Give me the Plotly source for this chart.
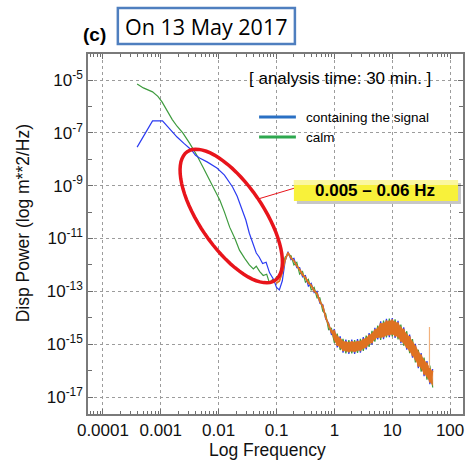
import numpy as np
import plotly.graph_objects as go

# ---------------- data ----------------
# low-frequency part, frequencies in Hz, power as log10(m**2/Hz)
blue_low_freq = [0.00039, 0.00072, 0.00107, 0.00141, 0.00191, 0.00251, 0.00339, 0.00398,
                 0.00468, 0.00631, 0.00794, 0.00933, 0.0126, 0.0174, 0.0209, 0.0257,
                 0.0295, 0.0339, 0.0389, 0.0447, 0.0501, 0.0575, 0.0661, 0.0759, 0.0891]
blue_low_logpow = [-7.54, -6.55, -6.55, -6.85, -7.16, -7.40, -7.65, -7.85,
                   -7.95, -8.10, -8.25, -8.33, -8.60, -9.05, -9.40, -9.92,
                   -10.30, -10.80, -11.20, -11.55, -11.70, -11.95, -11.90, -12.30, -12.55]

green_low_freq = [0.00039, 0.0005, 0.00072, 0.00089, 0.00105, 0.00132, 0.00158, 0.00191,
                  0.0024, 0.00316, 0.00417, 0.00537, 0.00692, 0.00851, 0.0105, 0.0126,
                  0.0155, 0.0191, 0.0229, 0.0282, 0.0339, 0.0398, 0.0447, 0.0513,
                  0.0589, 0.0676, 0.0759, 0.0851, 0.0933]
green_low_logpow = [-5.15, -5.30, -5.45, -5.62, -5.83, -6.20, -6.50, -6.75,
                    -7.00, -7.40, -7.84, -8.30, -8.79, -9.20, -9.55, -10.00,
                    -10.57, -11.00, -11.44, -11.75, -12.00, -12.15, -12.05, -12.25,
                    -12.40, -12.35, -12.70, -12.55, -12.60]

# high-frequency (noise) part, shared frequencies in Hz
noise_freq = [0.100, 0.112, 0.126, 0.141, 0.158, 0.178, 0.200, 0.224, 0.251, 0.282,
              0.316, 0.355, 0.398, 0.447, 0.501, 0.562, 0.631, 0.708, 0.794, 0.891,
              1.00, 1.12, 1.26, 1.41, 1.58, 1.78, 2.00, 2.24, 2.51, 2.82,
              3.16, 3.55, 3.98, 4.47, 5.01, 5.62, 6.31, 7.08, 7.94, 8.91,
              10.0, 11.2, 12.6, 14.1, 15.8, 17.8, 20.0, 22.4, 25.1, 28.2,
              31.6, 35.5, 39.8, 44.7, 50.1]
blue_noise_logpow = [-12.85, -12.95, -12.60, -11.85, -11.50, -11.80, -11.75, -12.10, -12.10, -12.45,
                     -12.40, -12.80, -12.70, -13.05, -13.00, -13.45, -13.50, -14.05, -14.20, -14.65,
                     -14.43, -15.12, -14.70, -15.32, -14.83, -15.37, -14.83, -15.37, -14.81, -15.32,
                     -14.73, -15.20, -14.58, -15.02, -14.38, -14.82, -14.14, -14.81, -14.04, -14.73,
                     -14.01, -14.76, -14.12, -14.96, -14.36, -15.21, -14.64, -15.51, -14.99, -15.91,
                     -15.34, -16.21, -15.64, -16.51, -15.94]
green_noise_logpow = [-12.45, -12.45, -12.10, -11.70, -11.60, -11.65, -12.00, -11.90, -12.35, -12.25,
                      -12.65, -12.55, -12.95, -12.85, -13.25, -13.25, -13.75, -13.85, -14.45, -14.40,
                      -14.95, -14.60, -15.22, -14.80, -15.35, -14.85, -15.35, -14.85, -15.33, -14.80,
                      -15.25, -14.68, -15.10, -14.50, -14.90, -14.30, -14.84, -14.11, -14.74, -14.03,
                      -14.71, -14.06, -14.82, -14.26, -15.06, -14.51, -15.34, -14.81, -15.69, -15.21,
                      -16.04, -15.51, -16.34, -15.81, -16.64]
orange_noise_logpow = [-12.68, -12.62, -12.28, -11.82, -11.53, -11.75, -11.83, -12.04, -12.17, -12.39,
                       -12.47, -12.69, -12.76, -13.00, -13.06, -13.40, -13.55, -14.00, -14.25, -14.56,
                       -14.49, -15.06, -14.77, -15.26, -14.90, -15.31, -14.89, -15.30, -14.88, -15.26,
                       -14.80, -15.13, -14.64, -14.96, -14.44, -14.76, -14.20, -14.74, -14.10, -14.67,
                       -14.06, -14.70, -14.18, -14.90, -14.42, -15.15, -14.70, -15.45, -15.05, -15.85,
                       -15.40, -16.15, -15.70, -16.45, -16.00]
orange_band_low_logpow = [-12.72, -12.62, -12.32, -11.82, -11.57, -11.74, -11.87, -12.02, -12.22, -12.37,
                          -12.53, -12.68, -12.83, -12.98, -13.13, -13.38, -13.63, -13.98, -14.33, -14.55,
                          -14.87, -15.02, -15.14, -15.22, -15.27, -15.27, -15.27, -15.27, -15.25, -15.22,
                          -15.17, -15.10, -15.02, -14.92, -14.82, -14.72, -14.76, -14.71, -14.66, -14.63,
                          -14.63, -14.66, -14.74, -14.86, -14.98, -15.11, -15.26, -15.41, -15.61, -15.81,
                          -15.96, -16.11, -16.26, -16.41, -16.56]
orange_band_high_logpow = [-12.68, -12.58, -12.28, -11.78, -11.53, -11.70, -11.83, -11.98, -12.18, -12.33,
                           -12.47, -12.62, -12.77, -12.92, -13.07, -13.32, -13.57, -13.92, -14.27, -14.45,
                           -14.53, -14.68, -14.80, -14.88, -14.93, -14.93, -14.93, -14.93, -14.91, -14.88,
                           -14.83, -14.76, -14.68, -14.58, -14.48, -14.38, -14.24, -14.19, -14.14, -14.11,
                           -14.11, -14.14, -14.22, -14.34, -14.46, -14.59, -14.74, -14.89, -15.09, -15.29,
                           -15.44, -15.59, -15.74, -15.89, -16.04]
spike_freq = [44.0, 44.0]
spike_logpow = [-14.35, -15.90]

x_tick_vals = [1e-4, 1e-3, 1e-2, 1e-1, 1, 10, 100]
x_tick_text = ["0.0001", "0.001", "0.01", "0.1", "1", "10", "100"]
y_tick_exps = [-5, -7, -9, -11, -13, -15, -17]

# ---------------- layout helpers (pixel -> paper) ----------------
L, R, T, B = 88, 465, 54, 414
W_PX, H_PX = 466, 460


def px(x):
    return (x - L) / (R - L)


def py(y):
    return (B - y) / (B - T)


BLUE = "#2B3BF2"
GREEN = "#3E9B3E"
ORANGE = "#DF7222"

fig = go.Figure()

blue_f = blue_low_freq + noise_freq
blue_p = [10 ** v for v in blue_low_logpow + blue_noise_logpow]
green_f = green_low_freq + noise_freq
green_p = [10 ** v for v in green_low_logpow + green_noise_logpow]

fig.add_trace(go.Scatter(x=green_f, y=green_p, mode="lines",
                         line=dict(color=GREEN, width=1.2), showlegend=False))
fig.add_trace(go.Scatter(x=blue_f, y=blue_p, mode="lines",
                         line=dict(color=BLUE, width=1.2), showlegend=False))
fig.add_trace(go.Scatter(
    x=noise_freq + noise_freq[::-1],
    y=[10 ** v for v in orange_band_high_logpow] + [10 ** v for v in orange_band_low_logpow[::-1]],
    mode="lines", fill="toself", fillcolor=ORANGE,
    line=dict(color=ORANGE, width=0.5), showlegend=False))
fig.add_trace(go.Scatter(x=noise_freq, y=[10 ** v for v in orange_noise_logpow], mode="lines",
                         line=dict(color=ORANGE, width=1.6), showlegend=False))
fig.add_trace(go.Scatter(x=spike_freq, y=[10 ** v for v in spike_logpow], mode="lines",
                         line=dict(color="#F2B27E", width=1.2), showlegend=False))

x_minor = [m * 10.0 ** e for e in range(-5, 3) for m in range(2, 10)]
y_minor = [10.0 ** e for e in range(-18, -3)]

axis_common = dict(
    type="log", showgrid=True, gridcolor="#9C9C9C", griddash="dot", gridwidth=1,
    ticks="inside", ticklen=5, tickcolor="#6E6E6E", tickwidth=1,
    showline=True, linecolor="#7A7A7A", linewidth=1.5, mirror="ticks",
    zeroline=False, tickmode="array",
)

fig.update_xaxes(
    **axis_common,
    range=[-4.258, 2.223],
    tickvals=x_tick_vals, ticktext=x_tick_text,
    tickfont=dict(family="Liberation Sans, Arial", size=17, color="#111"),
    minor=dict(tickvals=x_minor, ticks="inside", ticklen=3, tickcolor="#6E6E6E", showgrid=False),
)
fig.update_yaxes(
    **axis_common,
    range=[-17.643, -4.016],
    tickvals=[10.0 ** e for e in y_tick_exps],
    ticktext=["10<sup>%d</sup>" % e for e in y_tick_exps],
    tickfont=dict(family="Liberation Sans, Arial", size=17, color="#111"),
    minor=dict(tickvals=y_minor, ticks="inside", ticklen=4, tickcolor="#6E6E6E", showgrid=False),
)

# ---------------- decorations ----------------
shapes = []
annotations = []

# title box
shapes.append(dict(type="rect", xref="paper", yref="paper",
                   x0=px(118), x1=px(296), y0=py(44), y1=py(8),
                   line=dict(color="#4F7FBF", width=2.5), fillcolor="white"))
annotations.append(dict(xref="paper", yref="paper", x=px(207), y=py(26),
                        text="On 13 May 2017", showarrow=False,
                        font=dict(family="Open Sans", size=21.5, color="black"),
                        xanchor="center", yanchor="middle"))
annotations.append(dict(xref="paper", yref="paper", x=px(95), y=py(35),
                        text="<b>(c)</b>", showarrow=False,
                        font=dict(family="Liberation Sans, Arial", size=19, color="black"),
                        xanchor="center", yanchor="middle"))

# analysis time label
annotations.append(dict(xref="paper", yref="paper", x=px(341), y=py(78),
                        text="[ analysis time: 30 min. ]", showarrow=False,
                        font=dict(family="Liberation Sans, Arial", size=17, color="black"),
                        xanchor="center", yanchor="middle"))

# custom legend
for yy, col, label in [(117, "#2A70C4", "containing the signal"), (137, "#2EA84F", "calm")]:
    shapes.append(dict(type="line", xref="paper", yref="paper",
                       x0=px(260), x1=px(297), y0=py(yy), y1=py(yy),
                       line=dict(color=col, width=3)))
    annotations.append(dict(xref="paper", yref="paper", x=px(305), y=py(yy),
                            text=label, showarrow=False,
                            font=dict(family="Liberation Sans, Arial", size=13.5, color="black"),
                            xanchor="left", yanchor="middle"))

# red ellipse
cx, cy, a, b, th = 232.0, 216.0, 78.0, 32.0, np.deg2rad(55.5)
t = np.linspace(0, 2 * np.pi, 73)
ex = cx + a * np.cos(t) * np.cos(th) - b * np.sin(t) * np.sin(th)
ey = cy + a * np.cos(t) * np.sin(th) + b * np.sin(t) * np.cos(th)
path = "M " + " L ".join("%.5f,%.5f" % (px(X), py(Y)) for X, Y in zip(ex, ey)) + " Z"
shapes.append(dict(type="path", xref="paper", yref="paper", path=path,
                   line=dict(color="#E8141B", width=3.5)))

# connector line
shapes.append(dict(type="line", xref="paper", yref="paper",
                   x0=px(259), y0=py(199), x1=px(296), y1=py(188),
                   line=dict(color="#E8141B", width=1)))

# yellow frequency box with shadow
shapes.append(dict(type="rect", xref="paper", yref="paper",
                   x0=px(298), x1=px(463), y0=py(204), y1=py(183),
                   line=dict(width=0), fillcolor="rgba(0,0,0,0.22)"))
shapes.append(dict(type="rect", xref="paper", yref="paper",
                   x0=px(295), x1=px(460), y0=py(201), y1=py(180),
                   line=dict(width=0), fillcolor="#F8F13A"))
shapes.append(dict(type="rect", xref="paper", yref="paper",
                   x0=px(295), x1=px(460), y0=py(185), y1=py(180),
                   line=dict(width=0), fillcolor="#FBF7A0"))
annotations.append(dict(xref="paper", yref="paper", x=px(377), y=py(190.5),
                        text="<b>0.005 – 0.06 Hz</b>", showarrow=False,
                        font=dict(family="Liberation Sans, Arial", size=17, color="black"),
                        xanchor="center", yanchor="middle"))

# axis titles
annotations.append(dict(xref="paper", yref="paper", x=px(268), y=py(450),
                        text="Log Frequency", showarrow=False,
                        font=dict(family="Liberation Sans, Arial", size=17.5, color="#111"),
                        xanchor="center", yanchor="middle"))
annotations.append(dict(xref="paper", yref="paper", x=px(23), y=py(223),
                        text="Disp Power (log m**2/Hz)", showarrow=False, textangle=-90,
                        font=dict(family="Liberation Sans, Arial", size=17.5, color="#111"),
                        xanchor="center", yanchor="middle"))

fig.update_layout(
    width=W_PX, height=H_PX,
    margin=dict(l=L, r=W_PX - R, t=T, b=H_PX - B),
    paper_bgcolor="white", plot_bgcolor="white",
    shapes=shapes, annotations=annotations, showlegend=False,
)

fig.write_html("out.html", config={"displayModeBar": False},
               post_script="document.body.style.margin='0px';document.body.style.overflow='hidden';")
